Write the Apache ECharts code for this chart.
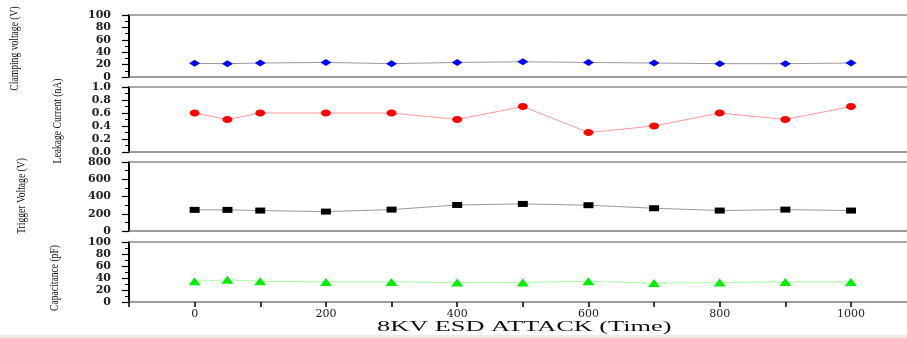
<!DOCTYPE html>
<html>
<head>
<meta charset="utf-8">
<script src="https://cdn.jsdelivr.net/npm/echarts@6/dist/echarts.min.js"></script>
<style>
html,body{margin:0;padding:0;background:#fff;overflow:hidden;}
#chart{width:907px;height:338px;}
</style>
</head>
<body>
<div id="chart"></div>
<script>
const xValues = [0, 50, 100, 200, 300, 400, 500, 600, 700, 800, 900, 1000];
const clampingVoltage = [22, 21.5, 22.5, 23.5, 21.5, 23.5, 24.5, 23.5, 22.5, 21.5, 21.5, 22.5];
const leakageCurrent = [0.6, 0.5, 0.6, 0.6, 0.6, 0.5, 0.7, 0.3, 0.4, 0.6, 0.5, 0.7];
const triggerVoltage = [245, 245, 237, 225, 248, 302, 314, 299, 264, 237, 248, 237];
const capacitance = [34.5, 37, 34.5, 33.5, 33.5, 32.5, 32.5, 34.5, 31.5, 32.5, 33.5, 33.5];
const xTickLabels = [0, 200, 400, 600, 800, 1000];
const yNames = ['Clamping voltage (V)', 'Leakage Current (nA)', 'Trigger Voltage (V)', 'Capacitance (pF)'];
const xName = '8KV ESD ATTACK (Time)';

const chart = echarts.init(document.getElementById('chart'), null, {renderer: 'canvas'});

const panels = [
  {top: 15, height: 62},
  {top: 87, height: 65},
  {top: 162, height: 69},
  {top: 242, height: 60}
];
const grids = panels.map(g => Object.assign({left: 129, right: -30, show: false, outerBoundsMode: 'none', containLabel: false}, g));

const X_MIN = -100, X_MAX = 1131;

function xAxisBottom(i, labels) {
  return {
    type: 'value', gridIndex: i, min: X_MIN, max: X_MAX, interval: 100,
    position: 'bottom',
    axisLine: {show: true, onZero: false, lineStyle: {color: '#7a7a7a', width: 1.5}},
    axisTick: {show: labels, inside: false, length: 5, lineStyle: {color: '#000', width: 1.5}},
    splitLine: {show: false}, minorSplitLine: {show: false},
    axisLabel: {
      show: labels, margin: 7, showMaxLabel: false,
      fontFamily: 'DejaVu Serif', fontSize: 11, color: '#222',
      formatter: v => (xTickLabels.indexOf(Math.round(v)) >= 0 && Math.abs(v - Math.round(v)) < 1e-6) ? String(Math.round(v)) : ''
    }
  };
}
function xAxisTop(i) {
  return {
    type: 'value', gridIndex: i, min: X_MIN, max: X_MAX, interval: 100,
    position: 'top',
    axisLine: {show: true, onZero: false, lineStyle: {color: '#8a8a8a', width: 1.5}},
    axisTick: {show: false}, axisLabel: {show: false}, splitLine: {show: false}, minorSplitLine: {show: false}
  };
}

function yAxis(i, min, max, interval, fmt) {
  return {
    type: 'value', gridIndex: i, min: min, max: max, interval: interval,
    axisLine: {show: true, onZero: false, lineStyle: {color: '#000', width: 2}},
    axisTick: {show: true, inside: false, length: 7, lineStyle: {color: '#000', width: 1.2}},
    minorTick: {show: true, splitNumber: 2, length: 4, lineStyle: {color: '#000', width: 1}},
    splitLine: {show: false},
    axisLabel: {margin: 18, fontFamily: 'DejaVu Serif', fontSize: 11, fontWeight: 'bold', color: '#222', formatter: fmt}
  };
}

function series(i, values, symbol, size, color, lineColor) {
  return {
    type: 'line', xAxisIndex: 2 * i, yAxisIndex: i,
    data: xValues.map((x, k) => [x, values[k]]),
    symbol: symbol, symbolSize: size, showSymbol: true,
    itemStyle: {color: color, borderWidth: 0},
    lineStyle: {color: lineColor, width: 1},
    emphasis: {disabled: true},
    z: 5
  };
}

const namePos = [[15, 48.5], [58, 121], [22, 196], [55, 278]];
function yNameText(i) {
  return {
    type: 'text', x: namePos[i][0], y: namePos[i][1], rotation: Math.PI / 2, scaleX: 0.74,
    silent: true,
    style: {text: yNames[i], font: '13px "Liberation Serif"', fill: '#111', textAlign: 'center', textVerticalAlign: 'middle'}
  };
}

chart.setOption({
  animation: false,
  backgroundColor: '#ffffff',
  grid: grids,
  xAxis: [
    xAxisBottom(0, false), xAxisTop(0),
    xAxisBottom(1, false), xAxisTop(1),
    xAxisBottom(2, false), xAxisTop(2),
    xAxisBottom(3, true), xAxisTop(3)
  ],
  yAxis: [
    yAxis(0, 0, 100, 20, v => String(v)),
    yAxis(1, 0, 1, 0.2, v => v.toFixed(1)),
    yAxis(2, 0, 800, 200, v => String(v)),
    yAxis(3, 0, 100, 20, v => String(v))
  ],
  series: [
    series(0, clampingVoltage, 'diamond', [11, 7], '#0000ff', '#9a9a9a'),
    series(1, leakageCurrent, 'circle', [10, 7], '#ff0000', '#ff9a9a'),
    series(2, triggerVoltage, 'rect', [10, 6], '#000000', '#9a9a9a'),
    series(3, capacitance, 'triangle', [12, 8], '#00ee00', '#aaffaa')
  ],
  graphic: [
    yNameText(0), yNameText(1), yNameText(2), yNameText(3),
    {type: 'text', left: 377, top: 320, scaleX: 1.88, originX: 0, silent: true,
      style: {text: xName, font: '14px "Liberation Serif"', fill: '#111'}},
    {type: 'rect', left: 0, top: 335, shape: {width: 907, height: 3}, style: {fill: '#eceae2'}, silent: true}
  ].concat(panels.map(p => ({
    type: 'rect', z: 1000, silent: true,
    shape: {x: 900, y: p.top + 2, width: 7, height: p.height - 4},
    style: {fill: '#ffffff'}
  })))
});
</script>
</body>
</html>
